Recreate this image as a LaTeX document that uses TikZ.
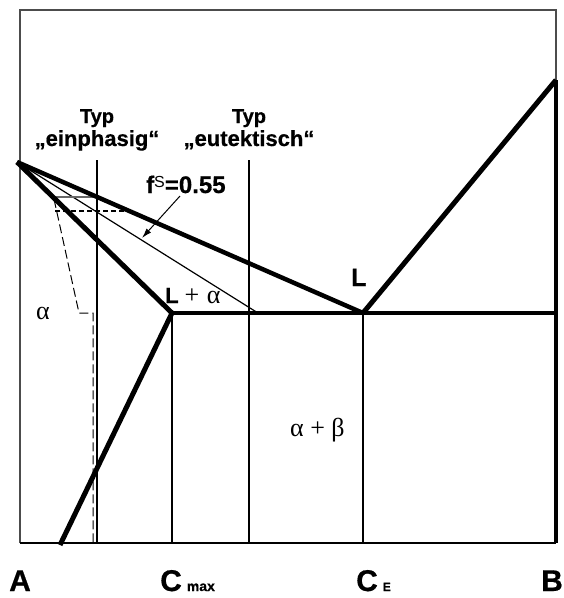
\documentclass[tikz,border=0pt]{standalone}
\usepackage{fontspec}
\setmainfont{Liberation Sans}[BoldFont={Liberation Sans Bold}, BoldFeatures={FakeBold=0.6}]
\newfontfamily\grk{Liberation Serif}
\usetikzlibrary{arrows.meta}
\begin{document}
\begin{tikzpicture}[x=1pt,y=-1pt,
  phase/.style={line width=4.5pt},
  typline/.style={line width=2.6pt},
  thinline/.style={line width=1.2pt},
  lbl/.style={inner sep=0pt, anchor=base west},
  axislbl/.style={inner sep=0pt, anchor=base west, font=\fontsize{30}{32}\selectfont\bfseries},
  typlbl/.style={inner sep=0pt, anchor=base, font=\fontsize{22}{24}\selectfont\bfseries}]
\useasboundingbox (0,0) rectangle (564,598);
% key points
\coordinate (apex) at (17,162);
\coordinate (cmax) at (172,313);
\coordinate (eut) at (363,313);
\coordinate (btop) at (556,80);
\coordinate (bbot) at (556,543);
\coordinate (abot) at (20,543);
\coordinate (atop) at (20,10);
\coordinate (rtop) at (556,10);
\coordinate (sol) at (60,545);
\coordinate (tie) at (258,313);
\coordinate (rline) at (556,313);
% frame
\draw[black!70, line width=1.5pt] (abot) -- (atop) -- (rtop) -- (btop);
\draw[line width=2pt] (abot) -- (bbot);
\draw[line width=4pt] (btop) -- (bbot);
% thin verticals
\coordinate (cmaxb) at (172,543);
\coordinate (eutb) at (363,543);
\draw[thinline] (cmax) -- (cmaxb);
\draw[thinline] (eut) -- (eutb);
% type lines
\coordinate (t1a) at (97,160); \coordinate (t1b) at (97,543);
\coordinate (t2a) at (249,160); \coordinate (t2b) at (249,543);
\draw[typline] (t1a) -- (t1b);
\draw[typline] (t2a) -- (t2b);
% tie line
\draw[thinline] (apex) -- (tie);
% gray horizontal
\coordinate (g1) at (53,197); \coordinate (g2) at (97,197);
\draw[black!60, line width=1.6pt] (g1) -- (g2);
% thick dashed
\coordinate (d1) at (55,211); \coordinate (d2) at (130,211);
\draw[line width=2.6pt, dash pattern=on 5pt off 3pt] (d1) -- (d2);
% thin dashed
\coordinate (e1) at (54,199); \coordinate (e2) at (79,313);
\coordinate (e3) at (93,313); \coordinate (e4) at (93,543);
\draw[line width=1pt, dash pattern=on 9pt off 4pt] (e1) -- (e2) -- (e3) -- (e4);
% phase boundaries
\draw[phase] (apex) -- (eut);
\draw[phase, line width=5pt] (apex) -- (cmax) -- (sol);
\draw[line width=4pt] (cmax) -- (rline);
\draw[phase, line width=5pt] (eut) -- (btop);
% arrow
\coordinate (ar1) at (180,196); \coordinate (ar2) at (142,238);
\draw[line width=1pt, -{Latex[length=10pt,width=6pt]}] (ar1) -- (ar2);
% labels
\node[typlbl, font=\fontsize{20}{22}\selectfont\bfseries] (typ1) at (97,123) {Typ};
\node[typlbl] (typ1b) at (97,146) {„einphasig“};
\node[typlbl, font=\fontsize{20}{22}\selectfont\bfseries] (typ2) at (249,123) {Typ};
\node[typlbl] (typ2b) at (249,146) {„eutektisch“};
\node[lbl] (fs) at (146,193) {\fontsize{24}{26}\selectfont\bfseries f\raisebox{6pt}{\fontsize{16}{16}\selectfont\mdseries S}=0.55};
\node[lbl] (Leut) at (351,286) {\fontsize{25}{26}\selectfont\bfseries L};
\node[lbl] (Lalpha) at (165,303) {\fontsize{22}{24}\selectfont\bfseries L{\grk\mdseries\fontsize{26}{26}\selectfont\hspace{6pt}+\hspace{1pt} α}};
\node[lbl] (alpha) at (36,319) {\grk\fontsize{26}{26}\selectfont α};
\node[lbl] (ab) at (290,436) {\grk\fontsize{26}{26}\selectfont α + β};
\node[axislbl] (A) at (9,591) {A};
\node[axislbl] (Cmax) at (160,591) {C\,{\fontsize{14}{14}\selectfont max}};
\node[axislbl] (CE) at (356,591) {C\,{\fontsize{12}{12}\selectfont E}};
\node[axislbl] (B) at (541,591) {B};
\end{tikzpicture}
\end{document}
